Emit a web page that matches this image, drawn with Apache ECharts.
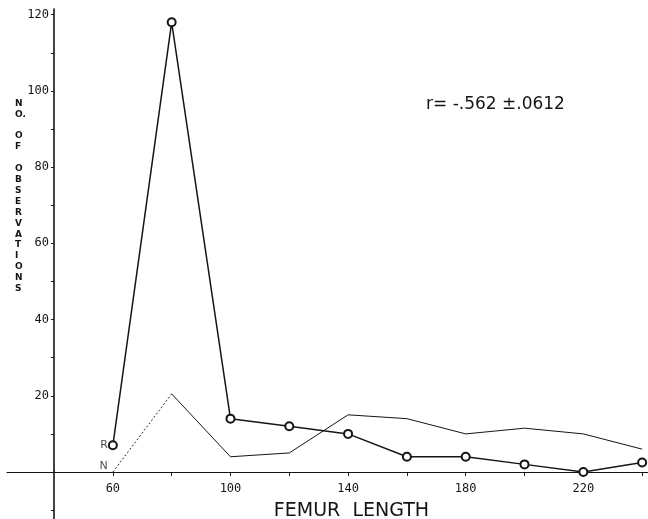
<!DOCTYPE html>
<html>
<head>
<meta charset="utf-8">
<script src="https://cdn.jsdelivr.net/npm/echarts@6/dist/echarts.min.js"></script>
<style>html,body{margin:0;padding:0;background:#fff}#c{width:648px;height:519px}</style>
</head>
<body>
<div id="c"></div>
<script>
// Data
const femurLength = [60, 80, 100, 120, 140, 160, 180, 200, 220, 240];
const rValues = [7, 118, 14, 12, 10, 4, 4, 2, 0, 2.5];
const nValues = [0, 20.5, 4, 5, 15, 14, 10, 11.5, 10, 6];
const xTickValues = [60, 80, 100, 120, 140, 160, 180, 200, 220, 240];
const xLabelValues = [60, 100, 140, 180, 220];
const yTickValues = [10, 20, 30, 40, 50, 60, 70, 80, 90, 100, 110, 120];
const yLabelValues = [20, 40, 60, 80, 100, 120];
const yBelowTicks = [-10];
const yTitle = ['N', 'O.', '', 'O', 'F', '', 'O', 'B', 'S', 'E', 'R', 'V', 'A', 'T', 'I', 'O', 'N', 'S'];
const annotation = 'r= -.562 \u00b1.0612';

const X_MIN = 24, X_MAX = 242, Y_AXIS_AT = 40;
const GRID_LEFT = 7, GRID_RIGHT = 0;
const pxPerX = (648 - GRID_LEFT - GRID_RIGHT) / (X_MAX - X_MIN);
const yOffset = -(Y_AXIS_AT - X_MIN) * pxPerX;

const ink = '#151515';
const chart = echarts.init(document.getElementById('c'));
const rData = femurLength.map((x, i) => [x, rValues[i]]);
const nData = femurLength.map((x, i) => [x, nValues[i]]);

chart.setOption({
  animation: false,
  backgroundColor: '#fff',
  grid: [
    { left: GRID_LEFT, right: GRID_RIGHT, top: 9, bottom: 47, containLabel: false, outerBoundsMode: 'none' },
    { left: GRID_LEFT, right: GRID_RIGHT, top: 472, bottom: 0, containLabel: false, outerBoundsMode: 'none' }
  ],
  title: {
    text: annotation, left: 421, top: 91,
    textStyle: { fontFamily: 'DejaVu Sans', fontSize: 17, fontWeight: 'normal', color: ink }
  },
  graphic: [{
    type: 'text', left: 15, top: 98,
    style: {
      text: yTitle.join('\n'), fill: ink, fontFamily: 'DejaVu Sans', fontSize: 9,
      fontWeight: 'bold', lineHeight: 10.9, align: 'left'
    }
  }],
  xAxis: [{
    type: 'value', min: X_MIN, max: X_MAX, gridIndex: 0,
    splitLine: { show: false },
    axisLine: { onZero: false, lineStyle: { color: ink, width: 1.2 } },
    axisTick: { show: true, customValues: xTickValues, length: 4, lineStyle: { color: ink } },
    axisLabel: { customValues: xLabelValues, margin: 11, color: ink, fontFamily: 'DejaVu Sans Mono', fontSize: 12 },
    name: 'FEMUR  LENGTH', nameLocation: 'middle', nameGap: 30,
    nameTextStyle: { fontFamily: 'DejaVu Sans', fontSize: 19, color: ink, padding: [0, 0, 0, 48] }
  }, {
    type: 'value', min: X_MIN, max: X_MAX, gridIndex: 1, show: false
  }],
  yAxis: [{
    type: 'value', min: 0, max: 121.5, gridIndex: 0,
    offset: yOffset,
    splitLine: { show: false },
    axisLine: { show: true, lineStyle: { color: ink, width: 1.6 } },
    axisTick: { show: true, customValues: yTickValues, length: 3, lineStyle: { color: ink } },
    axisLabel: { customValues: yLabelValues, margin: 5, color: ink, fontFamily: 'DejaVu Sans Mono', fontSize: 12 }
  }, {
    type: 'value', min: -12.4, max: 0, gridIndex: 1,
    offset: yOffset,
    splitLine: { show: false },
    axisLine: { show: true, lineStyle: { color: ink, width: 1.6 } },
    axisTick: { show: true, customValues: yBelowTicks, length: 3, lineStyle: { color: ink } },
    axisLabel: { show: false }
  }],
  series: [
    {
      name: 'R', type: 'line', data: rData,
      symbol: 'emptyCircle', symbolSize: 8,
      lineStyle: { color: ink, width: 1.5 },
      itemStyle: { color: ink, borderColor: ink, borderWidth: 1.1 },
      emphasis: { disabled: true },
      z: 3
    },
    {
      name: 'R-label', type: 'scatter', data: [rData[0]], symbolSize: 0,
      label: { show: true, formatter: 'R', position: 'left', distance: 5, color: ink, fontFamily: 'DejaVu Sans', fontSize: 11 },
      silent: true
    },
    {
      name: 'N', type: 'line', data: nData.slice(1), symbol: 'none',
      lineStyle: { color: ink, width: 1 }, emphasis: { disabled: true }
    },
    {
      name: 'N-start', type: 'line', data: nData.slice(0, 2), symbol: 'none',
      lineStyle: { color: ink, width: 0.9, type: [2, 2] }, emphasis: { disabled: true }
    },
    {
      name: 'N-label', type: 'scatter', data: [nData[0]], symbolSize: 0,
      label: { show: true, formatter: 'N', position: 'left', distance: 5, offset: [0, -6], color: ink, fontFamily: 'DejaVu Sans', fontSize: 11 },
      silent: true
    }
  ]
});
</script>
</body>
</html>
